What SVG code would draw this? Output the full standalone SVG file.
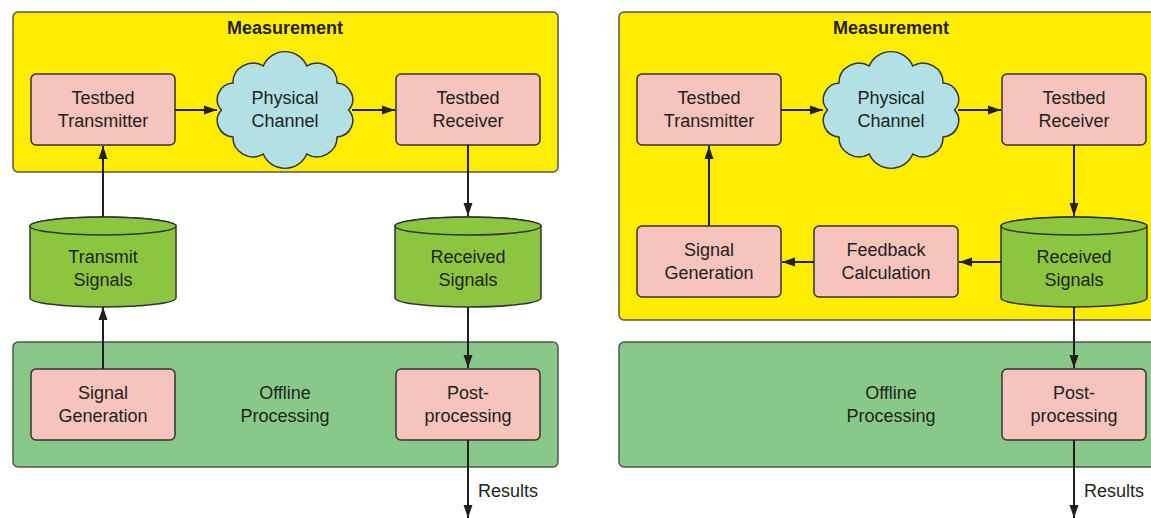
<svg xmlns="http://www.w3.org/2000/svg" width="1151" height="518" viewBox="0 0 1151 518">
<style>
text{font-family:"Liberation Sans",Arial,sans-serif;font-size:18px;fill:#231f20;text-anchor:middle}
.title{font-weight:bold}
.meas{fill:#ffed00;stroke:#555;stroke-width:1.5}
.off{fill:#88c98a;stroke:#555;stroke-width:1.5}
.box{fill:#f6c3bd;stroke:#333;stroke-width:1.5}
.cyl{fill:#8cc540;stroke:#333;stroke-width:1.5}
.cloud{fill:#b2e0e4;stroke:#333;stroke-width:1.4}
.con{stroke:#231f20;stroke-width:2;fill:none;marker-end:url(#ah)}
.lbl{text-anchor:start}
</style>
<defs>
<marker id="ah" markerUnits="userSpaceOnUse" markerWidth="14" markerHeight="10" refX="13" refY="5" orient="auto">
<path d="M0,0.5 L13,5 L0,9.5 Z" fill="#231f20"/>
</marker>
<path id="cloudshape" d="M-60,0 A16,16 0 0 1 -49.1,-26.4 A19,19 0 0 1 -20.5,-43.2 A22,22 0 0 1 20.5,-43.2 A19,19 0 0 1 49.1,-26.4 A16,16 0 0 1 60,0 A16,16 0 0 1 49.1,26.4 A19,19 0 0 1 20.5,43.2 A22,22 0 0 1 -20.5,43.2 A19,19 0 0 1 -49.1,26.4 A16,16 0 0 1 -60,0 Z"/>
</defs>

<!-- LEFT PANEL -->
<g id="left-measurement"><rect class="meas" x="13" y="12" width="545" height="160" rx="5"/><text class="title" x="285" y="34">Measurement</text></g>
<g id="left-offline"><rect class="off" x="13" y="342" width="545" height="125" rx="5"/><text x="285" y="399">Offline</text><text x="285" y="422">Processing</text></g>
<g id="left-tx"><rect class="box" x="31" y="74" width="144" height="71" rx="5"/><text x="103" y="104">Testbed</text><text x="103" y="127">Transmitter</text></g>
<g id="left-channel"><use href="#cloudshape" class="cloud" transform="translate(285,110) scale(1.06,1.02)"/><text x="285" y="104">Physical</text><text x="285" y="127">Channel</text></g>
<g id="left-rx"><rect class="box" x="396" y="74" width="144" height="71" rx="5"/><text x="468" y="104">Testbed</text><text x="468" y="127">Receiver</text></g>
<g id="left-txsig"><path class="cyl" d="M30,226 A73,9 0 0 1 176,226 L176,298 A73,9 0 0 1 30,298 Z"/><ellipse class="cyl" cx="103" cy="226" rx="73" ry="9"/><text x="103" y="263">Transmit</text><text x="103" y="286">Signals</text></g>
<g id="left-rxsig"><path class="cyl" d="M395,226 A73,9 0 0 1 541,226 L541,298 A73,9 0 0 1 395,298 Z"/><ellipse class="cyl" cx="468" cy="226" rx="73" ry="9"/><text x="468" y="263">Received</text><text x="468" y="286">Signals</text></g>
<g id="left-siggen"><rect class="box" x="31" y="369" width="144" height="71" rx="5"/><text x="103" y="399">Signal</text><text x="103" y="422">Generation</text></g>
<g id="left-post"><rect class="box" x="396" y="369" width="144" height="71" rx="5"/><text x="468" y="399">Post-</text><text x="468" y="422">processing</text></g>

<!-- RIGHT PANEL -->
<g id="right-measurement"><rect class="meas" x="619" y="12" width="545" height="308" rx="5"/><text class="title" x="891" y="34">Measurement</text></g>
<g id="right-offline"><rect class="off" x="619" y="342" width="545" height="125" rx="5"/><text x="891" y="399">Offline</text><text x="891" y="422">Processing</text></g>
<g id="right-tx"><rect class="box" x="637" y="74" width="144" height="71" rx="5"/><text x="709" y="104">Testbed</text><text x="709" y="127">Transmitter</text></g>
<g id="right-channel"><use href="#cloudshape" class="cloud" transform="translate(891,110) scale(1.06,1.02)"/><text x="891" y="104">Physical</text><text x="891" y="127">Channel</text></g>
<g id="right-rx"><rect class="box" x="1002" y="74" width="144" height="71" rx="5"/><text x="1074" y="104">Testbed</text><text x="1074" y="127">Receiver</text></g>
<g id="right-siggen"><rect class="box" x="637" y="226" width="144" height="71" rx="5"/><text x="709" y="256">Signal</text><text x="709" y="279">Generation</text></g>
<g id="right-feedback"><rect class="box" x="814" y="226" width="144" height="71" rx="5"/><text x="886" y="256">Feedback</text><text x="886" y="279">Calculation</text></g>
<g id="right-rxsig"><path class="cyl" d="M1001,226 A73,9 0 0 1 1147,226 L1147,298 A73,9 0 0 1 1001,298 Z"/><ellipse class="cyl" cx="1074" cy="226" rx="73" ry="9"/><text x="1074" y="263">Received</text><text x="1074" y="286">Signals</text></g>
<g id="right-post"><rect class="box" x="1002" y="369" width="144" height="71" rx="5"/><text x="1074" y="399">Post-</text><text x="1074" y="422">processing</text></g>

<g id="connectors">
<line class="con" x1="103" y1="369" x2="103" y2="307"/>
<line class="con" x1="103" y1="217" x2="103" y2="146"/>
<line class="con" x1="175" y1="110" x2="217" y2="110"/>
<line class="con" x1="352" y1="110" x2="395" y2="110"/>
<line class="con" x1="468" y1="145" x2="468" y2="216"/>
<line class="con" x1="468" y1="307" x2="468" y2="368"/>
<line class="con" x1="468" y1="440" x2="468" y2="518"/>
<text class="lbl" x="478" y="497">Results</text>

<line class="con" x1="709" y1="226" x2="709" y2="146"/>
<line class="con" x1="781" y1="110" x2="823" y2="110"/>
<line class="con" x1="958" y1="110" x2="1001" y2="110"/>
<line class="con" x1="1074" y1="145" x2="1074" y2="216"/>
<line class="con" x1="1001" y1="262" x2="959" y2="262"/>
<line class="con" x1="814" y1="262" x2="782" y2="262"/>
<line class="con" x1="1074" y1="307" x2="1074" y2="368"/>
<line class="con" x1="1074" y1="440" x2="1074" y2="518"/>
<text class="lbl" x="1084" y="497">Results</text>
</g>
</svg>
